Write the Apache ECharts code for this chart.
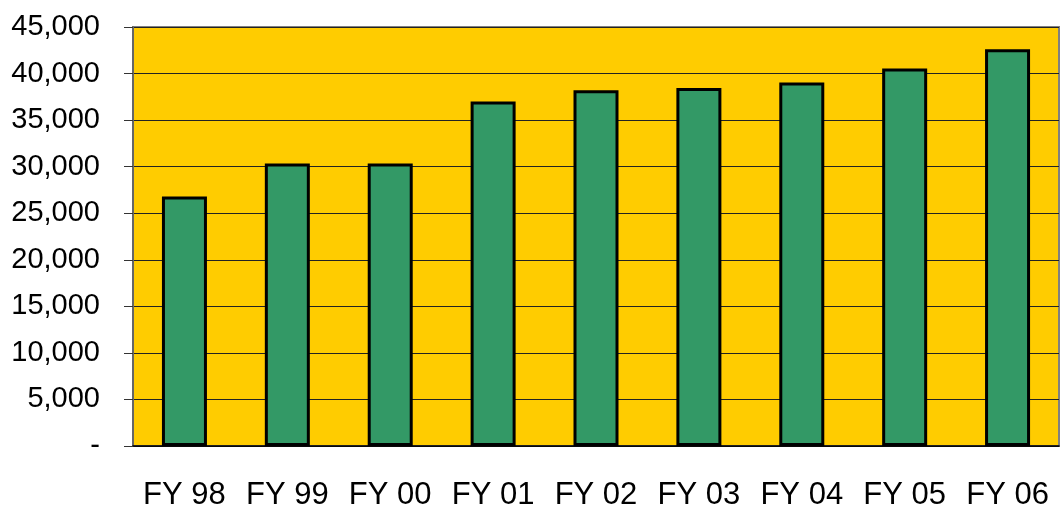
<!DOCTYPE html>
<html lang="en">
<head>
    <meta charset="UTF-8">
    <title>FY chart</title>
    <script src="https://cdn.jsdelivr.net/npm/echarts@6/dist/echarts.min.js"></script>
    <style>
        html, body { margin: 0; padding: 0; background: #fff; }
        #chart { width: 1061px; height: 518px; }
    </style>
</head>
<body>
    <div id="chart"></div>
    <script>
        // data
        let years = ['FY 98', 'FY 99', 'FY 00', 'FY 01', 'FY 02', 'FY 03', 'FY 04', 'FY 05', 'FY 06'];
        let values = [26800, 30350, 30350, 37000, 38200, 38450, 39050, 40550, 42600];

        let myEchart = echarts.init(document.querySelector('#chart'));
        let font = '"Liberation Sans", Arial, sans-serif';

        let option = {
            animation: false,
            grid: {
                left: 133,
                right: 2,
                top: 27,
                bottom: 72,
                show: true,
                backgroundColor: '#FFCC00',
                borderColor: '#808080',
                borderWidth: 2
            },
            xAxis: {
                type: 'category',
                data: years,
                axisLine: { lineStyle: { color: '#000', width: 1.5 } },
                axisTick: { length: 11, lineStyle: { color: '#333' } },
                axisLabel: {
                    interval: 0,
                    hideOverlap: false,
                    margin: 34,
                    color: '#000',
                    fontFamily: font,
                    fontSize: 31
                }
            },
            yAxis: {
                type: 'value',
                min: 0,
                max: 45000,
                interval: 5000,
                axisLine: { show: true, lineStyle: { color: '#666', width: 2 } },
                axisTick: { show: true, length: 9, lineStyle: { color: '#333' } },
                splitLine: { lineStyle: { color: '#222', width: 1 } },
                axisLabel: {
                    margin: 33,
                    color: '#000',
                    fontFamily: font,
                    fontSize: 29,
                    formatter: function (v) {
                        return v === 0 ? '-' : v.toLocaleString('en-US');
                    }
                }
            },
            series: [{
                type: 'bar',
                data: values,
                barWidth: 45,
                itemStyle: {
                    color: '#339966',
                    borderColor: '#000',
                    borderWidth: 3
                }
            }]
        };
        myEchart.setOption(option);
    </script>
</body>
</html>
